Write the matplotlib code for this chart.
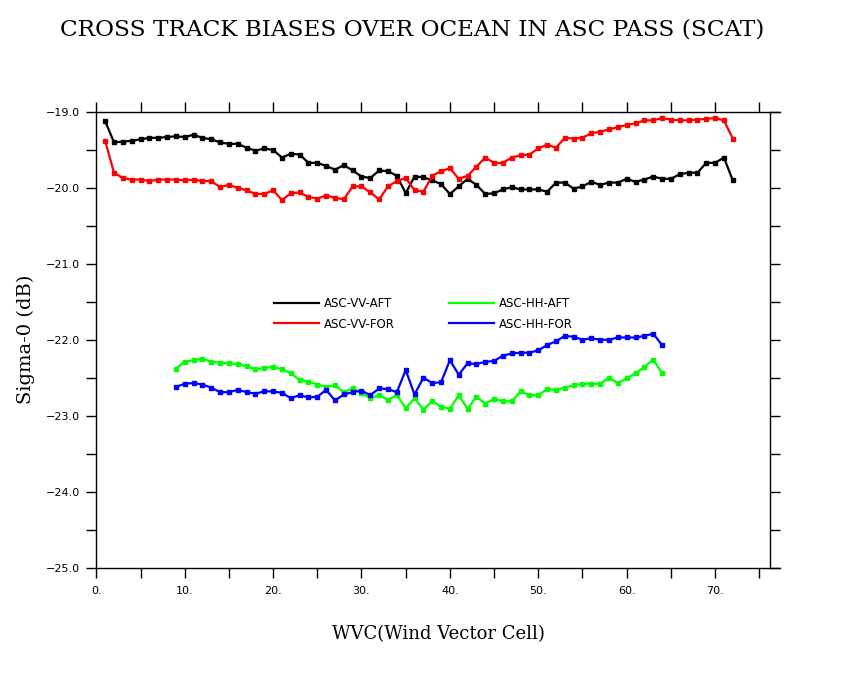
import numpy as np
import matplotlib
matplotlib.use("Agg")
import matplotlib.pyplot as plt
from matplotlib.ticker import MultipleLocator, FuncFormatter

# wind vector cell index for each series
wvc_vv = np.arange(1, 73)
wvc_hh = np.arange(9, 65)

asc_vv_aft = [
    -19.12, -19.40, -19.39, -19.38, -19.36, -19.34, -19.34, -19.33, -19.32, -19.33,
    -19.30, -19.34, -19.36, -19.40, -19.42, -19.42, -19.47, -19.51, -19.48, -19.50,
    -19.60, -19.55, -19.56, -19.67, -19.67, -19.71, -19.76, -19.70, -19.77, -19.85,
    -19.87, -19.77, -19.78, -19.84, -20.07, -19.85, -19.86, -19.90, -19.95, -20.08,
    -19.98, -19.88, -19.96, -20.08, -20.07, -20.02, -19.99, -20.02, -20.02, -20.02,
    -20.05, -19.93, -19.93, -20.01, -19.98, -19.92, -19.96, -19.93, -19.93, -19.88,
    -19.92, -19.89, -19.85, -19.88, -19.88, -19.82, -19.80, -19.80, -19.67, -19.67,
    -19.60, -19.90,
]
asc_vv_for = [
    -19.38, -19.80, -19.87, -19.89, -19.89, -19.91, -19.89, -19.89, -19.89, -19.90,
    -19.89, -19.91, -19.91, -19.99, -19.96, -20.00, -20.03, -20.08, -20.08, -20.03,
    -20.16, -20.07, -20.06, -20.12, -20.14, -20.10, -20.13, -20.15, -19.98, -19.98,
    -20.06, -20.15, -19.98, -19.91, -19.87, -20.03, -20.05, -19.84, -19.78, -19.74,
    -19.88, -19.84, -19.72, -19.60, -19.67, -19.67, -19.60, -19.57, -19.56, -19.48,
    -19.43, -19.47, -19.34, -19.35, -19.34, -19.28, -19.26, -19.23, -19.20, -19.17,
    -19.15, -19.11, -19.11, -19.08, -19.10, -19.11, -19.11, -19.10, -19.09, -19.08,
    -19.11, -19.35,
]
asc_hh_aft = [
    -22.38, -22.29, -22.27, -22.25, -22.29, -22.30, -22.31, -22.32, -22.35, -22.39,
    -22.37, -22.36, -22.39, -22.44, -22.53, -22.55, -22.59, -22.62, -22.60, -22.69,
    -22.64, -22.70, -22.77, -22.73, -22.79, -22.73, -22.90, -22.77, -22.92, -22.81,
    -22.88, -22.91, -22.73, -22.91, -22.75, -22.84, -22.78, -22.81, -22.81, -22.68,
    -22.73, -22.73, -22.65, -22.66, -22.63, -22.60, -22.58, -22.58, -22.58, -22.50,
    -22.57, -22.51, -22.44, -22.36, -22.26, -22.44,
]
asc_hh_for = [
    -22.62, -22.58, -22.57, -22.59, -22.63, -22.69, -22.69, -22.66, -22.69, -22.71,
    -22.68, -22.68, -22.70, -22.77, -22.73, -22.76, -22.75, -22.66, -22.80, -22.72,
    -22.69, -22.67, -22.73, -22.64, -22.65, -22.69, -22.40, -22.72, -22.50, -22.57,
    -22.56, -22.27, -22.46, -22.31, -22.32, -22.29, -22.28, -22.21, -22.18, -22.17,
    -22.17, -22.14, -22.07, -22.02, -21.95, -21.96, -22.00, -21.98, -22.00, -22.00,
    -21.97, -21.97, -21.97, -21.95, -21.92, -22.07,
]

fig = plt.figure(figsize=(8.5, 6.8), dpi=100)
ax = fig.add_axes([0.1133, 0.1654, 0.8039, 0.6699])

style = dict(lw=1.6, marker="s", ms=2.2)
ax.plot(wvc_vv, asc_vv_aft, color="black", label="ASC-VV-AFT", **style)
ax.plot(wvc_vv, asc_vv_for, color="#ff0000", label="ASC-VV-FOR", **style)
ax.plot(wvc_hh, asc_hh_aft, color="#00ff00", label="ASC-HH-AFT", **style)
ax.plot(wvc_hh, asc_hh_for, color="#0000ff", label="ASC-HH-FOR", **style)

ax.set_xlim(0, 77.3)
ax.set_ylim(-25, -19)
ax.spines["right"].set_position(("data", 76.2))

ax.xaxis.set_major_locator(MultipleLocator(10))
ax.xaxis.set_minor_locator(MultipleLocator(5))
ax.yaxis.set_major_locator(MultipleLocator(1))
ax.yaxis.set_minor_locator(MultipleLocator(0.5))
ax.xaxis.set_major_formatter(FuncFormatter(lambda v, p: f"{int(round(v))}."))
ax.yaxis.set_major_formatter(FuncFormatter(lambda v, p: f"{v:.1f}".replace("-", "\u2212")))
ax.xaxis.set_ticks_position("both")
ax.yaxis.set_ticks_position("both")
ax.tick_params(which="both", direction="out", length=7.5, width=1, labelsize=8)
ax.tick_params(axis="x", pad=6)
ax.tick_params(axis="y", pad=4)
for s in ax.spines.values():
    s.set_linewidth(1)

ax.set_xlabel("WVC(Wind Vector Cell)", family="DejaVu Serif", fontsize=13, labelpad=21)
ax.set_ylabel("Sigma-0 (dB)", family="DejaVu Serif", fontsize=14, labelpad=8)
fig.text(0.485, 0.956, "CROSS TRACK BIASES OVER OCEAN IN ASC PASS (SCAT)",
         family="DejaVu Serif", fontsize=16.7, ha="center", va="center")

leg = ax.legend(ncol=2, frameon=False, fontsize=8.5, handlelength=3.8, columnspacing=4.6,
                labelspacing=0.65, borderpad=0, handletextpad=0.4,
                loc="upper left", bbox_to_anchor=(0.2515, 0.607))
for h in leg.get_lines():
    h.set_marker("")

fig.savefig("out.png", dpi=100)
